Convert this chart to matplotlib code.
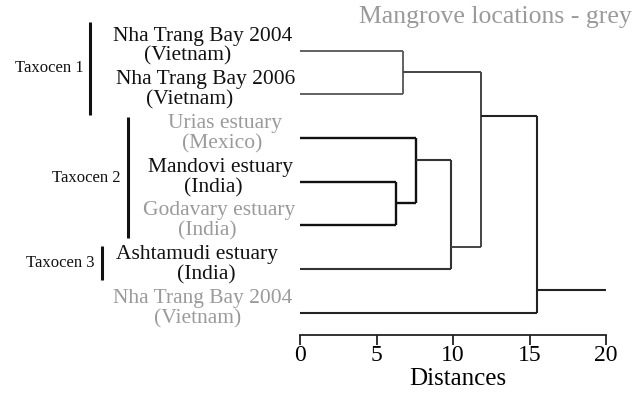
import matplotlib
matplotlib.use("Agg")
import matplotlib.pyplot as plt
from matplotlib.transforms import blended_transform_factory

# ---------------- data ----------------
leaf_line1 = ["Nha Trang Bay 2004", "Nha Trang Bay 2006", "Urias estuary",
              "Mandovi estuary", "Godavary estuary", "Ashtamudi estuary",
              "Nha Trang Bay 2004"]
leaf_line2 = ["(Vietnam)", "(Vietnam)", "(Mexico)", "(India)", "(India)",
              "(India)", "(Vietnam)"]
leaf_is_mangrove = [False, False, True, False, True, False, True]

# merges: (child_a, child_b, distance, row of the joint)
# children: leaves 0..6, internal nodes 7..
merge_a = [0, 3, 2, 9, 7, 11]
merge_b = [1, 4, 8, 5, 10, 6]
merge_dist = [6.75, 6.3, 7.6, 9.87, 11.83, 15.47]
merge_row = [0.49, 3.49, 2.5, 4.49, 1.49, 5.47]
root_end = 20

x_ticks = [0, 5, 10, 15, 20]
x_label = "Distances"
title_text = "Mangrove locations - grey"

taxocen_names = ["Taxocen 1", "Taxocen 2", "Taxocen 3"]
taxocen_rows = [(-0.66, 1.47), (1.52, 4.3), (4.48, 5.24)]

# ---------------- style ----------------
W, H = 644, 401
serif = ["Liberation Serif", "DejaVu Serif"]
grey = "#9a9a9a"
black = "#111111"

fig = plt.figure(figsize=(W / 100, H / 100), dpi=100)
ax_left, ax_right = 300, 606
ax_top, ax_bottom = 7, 335
ax = fig.add_axes([ax_left / W, 1 - ax_bottom / H, (ax_right - ax_left) / W,
                   (ax_bottom - ax_top) / H])
ax.set_xlim(0, 20)
ax.set_ylim(6.51, -1.0)

# ---------------- dendrogram ----------------
n = len(leaf_line1)
node_x = {i: 0.0 for i in range(n)}
node_y = {i: float(i) for i in range(n)}
link_colors = ["#555555", "#111111", "#111111", "#333333", "#444444", "#222222"]
link_lw = [1.3, 1.7, 1.7, 1.5, 1.4, 1.5]
for k, (a, b, d, r) in enumerate(zip(merge_a, merge_b, merge_dist, merge_row)):
    c, lw = link_colors[k], link_lw[k]
    for ch in (a, b):
        ax.plot([node_x[ch], d], [node_y[ch], node_y[ch]], color=c, lw=lw,
                solid_capstyle="butt")
    ax.plot([d, d], [node_y[a], node_y[b]], color=c, lw=lw, solid_capstyle="butt")
    node_x[n + k] = d
    node_y[n + k] = r
root = n + len(merge_a) - 1
ax.plot([node_x[root], root_end], [node_y[root], node_y[root]], color="#222222",
        lw=1.5, solid_capstyle="butt")

# ---------------- axis ----------------
for s in ("top", "right", "left"):
    ax.spines[s].set_visible(False)
ax.spines["bottom"].set_color("#222222")
ax.spines["bottom"].set_linewidth(1.3)
ax.set_yticks([])
ax.set_xticks(x_ticks)
ax.set_xticklabels([str(t) for t in x_ticks], fontfamily=serif, fontsize=17)
ax.tick_params(axis="x", direction="out", length=7, width=1.3, color="#222222",
               pad=0)
ax.set_xlabel(x_label, fontfamily=serif, fontsize=18, labelpad=-2)
ax.xaxis.set_label_coords(0.515, -0.102)

# ---------------- labels ----------------
tr = blended_transform_factory(fig.transFigure, ax.transData)
line1_cx = [203, 206, 225, 221, 219, 197, 203]
line2_cx = [188, 190, 222, 213, 207, 206, 198]
for i in range(n):
    col = grey if leaf_is_mangrove[i] else black
    ax.text(line1_cx[i] / W, i - 0.33, leaf_line1[i], transform=tr, ha="center",
            va="center", fontsize=15.5, fontfamily=serif, color=col, clip_on=False)
    ax.text(line2_cx[i] / W, i + 0.13, leaf_line2[i], transform=tr, ha="center",
            va="center", fontsize=15.5, fontfamily=serif, color=col, clip_on=False)

bar_x = [90, 128, 102]
text_right = [84, 121, 94]
for name, (y0, y1), bx, tx in zip(taxocen_names, taxocen_rows, bar_x, text_right):
    ax.plot([bx / W, bx / W], [y0, y1], transform=tr, color=black, lw=2.2,
            clip_on=False, solid_capstyle="butt")
    ax.text(tx / W, (y0 + y1) / 2, name, transform=tr, ha="right", va="center",
            fontsize=12, fontfamily=serif, color=black, clip_on=False)

fig.text(632 / W, 1 - 17 / H, title_text, ha="right", va="center",
         fontsize=18.5, fontfamily=serif, color=grey)

fig.savefig("out.png", dpi=100, facecolor="white")
